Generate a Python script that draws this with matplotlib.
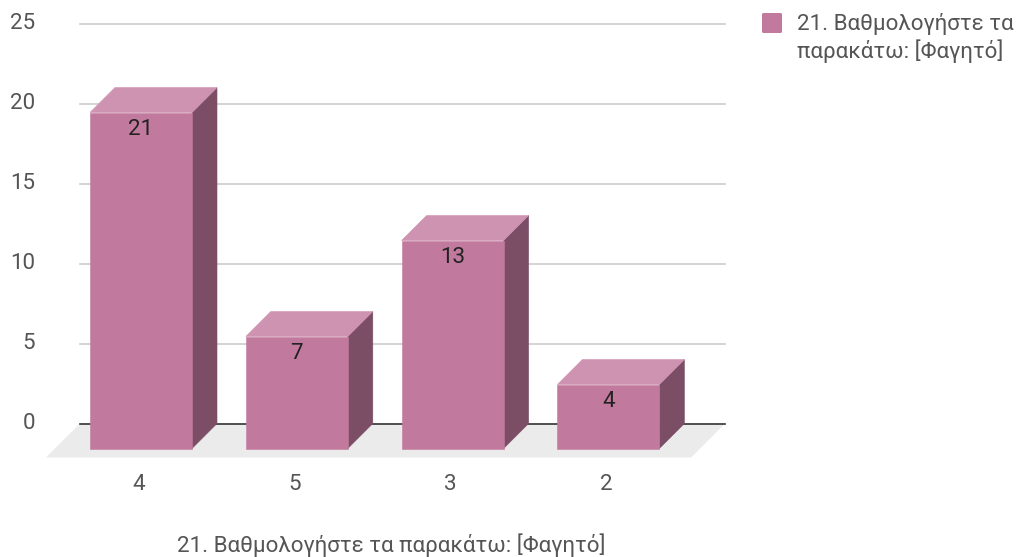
import matplotlib
matplotlib.use("Agg")
import matplotlib.pyplot as plt
from matplotlib.patches import Polygon, FancyBboxPatch

plt.rcParams['font.family'] = ['Roboto', 'DejaVu Sans']

# ---- data ----
categories = ["4", "5", "3", "2"]
values = [21, 7, 13, 4]
series_name = "21. Βαθμολογήστε τα\nπαρακάτω: [Φαγητό]"
axis_title = "21. Βαθμολογήστε τα παρακάτω: [Φαγητό]"
yticks = [0, 5, 10, 15, 20, 25]

# ---- style ----
W, H = 1019, 557
FRONT = "#c17a9d"
TOP = "#cf93b2"
SIDE = "#7b4e66"
FLOOR = "#ebebeb"
GRID = "#cccccc"
BASE = "#333333"
TXT = "#555555"
FS = 16.1

fig = plt.figure(figsize=(W / 100, H / 100), dpi=100)

# pixel geometry of plot region
px_per_unit = 16.0
y0_px = 423.5
x0_px = 141.0
step_px = 155.8
ax_bottom_px, ax_top_px = 475, 5
ax_left_px, ax_right_px = 0, 740

ax = fig.add_axes([ax_left_px / W, 1 - ax_bottom_px / H,
                   (ax_right_px - ax_left_px) / W, (ax_bottom_px - ax_top_px) / H])
ax.set_xlim((ax_left_px - x0_px) / step_px, (ax_right_px - x0_px) / step_px)
ax.set_ylim(-(ax_bottom_px - y0_px) / px_per_unit, (y0_px - ax_top_px) / px_per_unit)
ax.axis("off")

# depth & widths in data units
dx = 25 / step_px
dy = 25 / px_per_unit
bw = 102 / step_px
fdx = 34 / step_px
fdy = 34 / px_per_unit
back_left = (80 - x0_px) / step_px
back_right = (725 - x0_px) / step_px

# floor
ax.add_patch(Polygon([(back_left, 0), (back_right, 0),
                      (back_right - fdx, -fdy), (back_left - fdx, -fdy)],
                     closed=True, facecolor=FLOOR, edgecolor="none", zorder=1))

# gridlines
for t in yticks:
    if t == 0:
        ax.plot([back_left, back_right], [0, 0], color=BASE, lw=1.2, zorder=2)
    else:
        ax.plot([back_left, back_right], [t, t], color=GRID, lw=1.2, zorder=2)
    ax.text((35 - x0_px) / step_px, t, str(t), ha="right", va="center",
            fontsize=FS, color=TXT, zorder=5)

# bars
for i, (cat, v) in enumerate(zip(categories, values)):
    xl, xr = i - bw / 2, i + bw / 2
    front_top = v - dy
    ax.add_patch(Polygon([(xr, -dy), (xr + dx, 0), (xr + dx, v), (xr, front_top)],
                         closed=True, facecolor=SIDE, edgecolor=SIDE, lw=0.4, zorder=3))
    ax.add_patch(Polygon([(xl, front_top), (xr, front_top), (xr + dx, v), (xl + dx, v)],
                         closed=True, facecolor=TOP, edgecolor=TOP, lw=0.4, zorder=3))
    ax.add_patch(Polygon([(xl, -dy), (xr, -dy), (xr, front_top), (xl, front_top)],
                         closed=True, facecolor=FRONT, edgecolor=FRONT, lw=0.4, zorder=3.1))
    ax.annotate(str(v), (i, front_top), xytext=(0, -12), textcoords="offset points",
                ha="center", va="center", fontsize=FS, color="#222222", zorder=6)
    ax.annotate(cat, (i - 2 / step_px, 0), xytext=(0, -(485 - y0_px) * 0.72),
                textcoords="offset points", ha="center", va="center",
                fontsize=FS, color=TXT, zorder=6)

# axis title
fig.text(391 / W, 1 - 545 / H, axis_title, ha="center", va="center",
         fontsize=FS, color=TXT)

# legend
fig.patches.append(FancyBboxPatch((762 / W, 1 - 33 / H), 20 / W, 20 / H,
                                  boxstyle="round,pad=0,rounding_size=0.002",
                                  transform=fig.transFigure, facecolor=FRONT,
                                  edgecolor="none"))
fig.text(797 / W, 1 - 38 / H, series_name, ha="left", va="center",
         fontsize=FS, color=TXT, linespacing=1.28)

fig.savefig("out.png", dpi=100)
